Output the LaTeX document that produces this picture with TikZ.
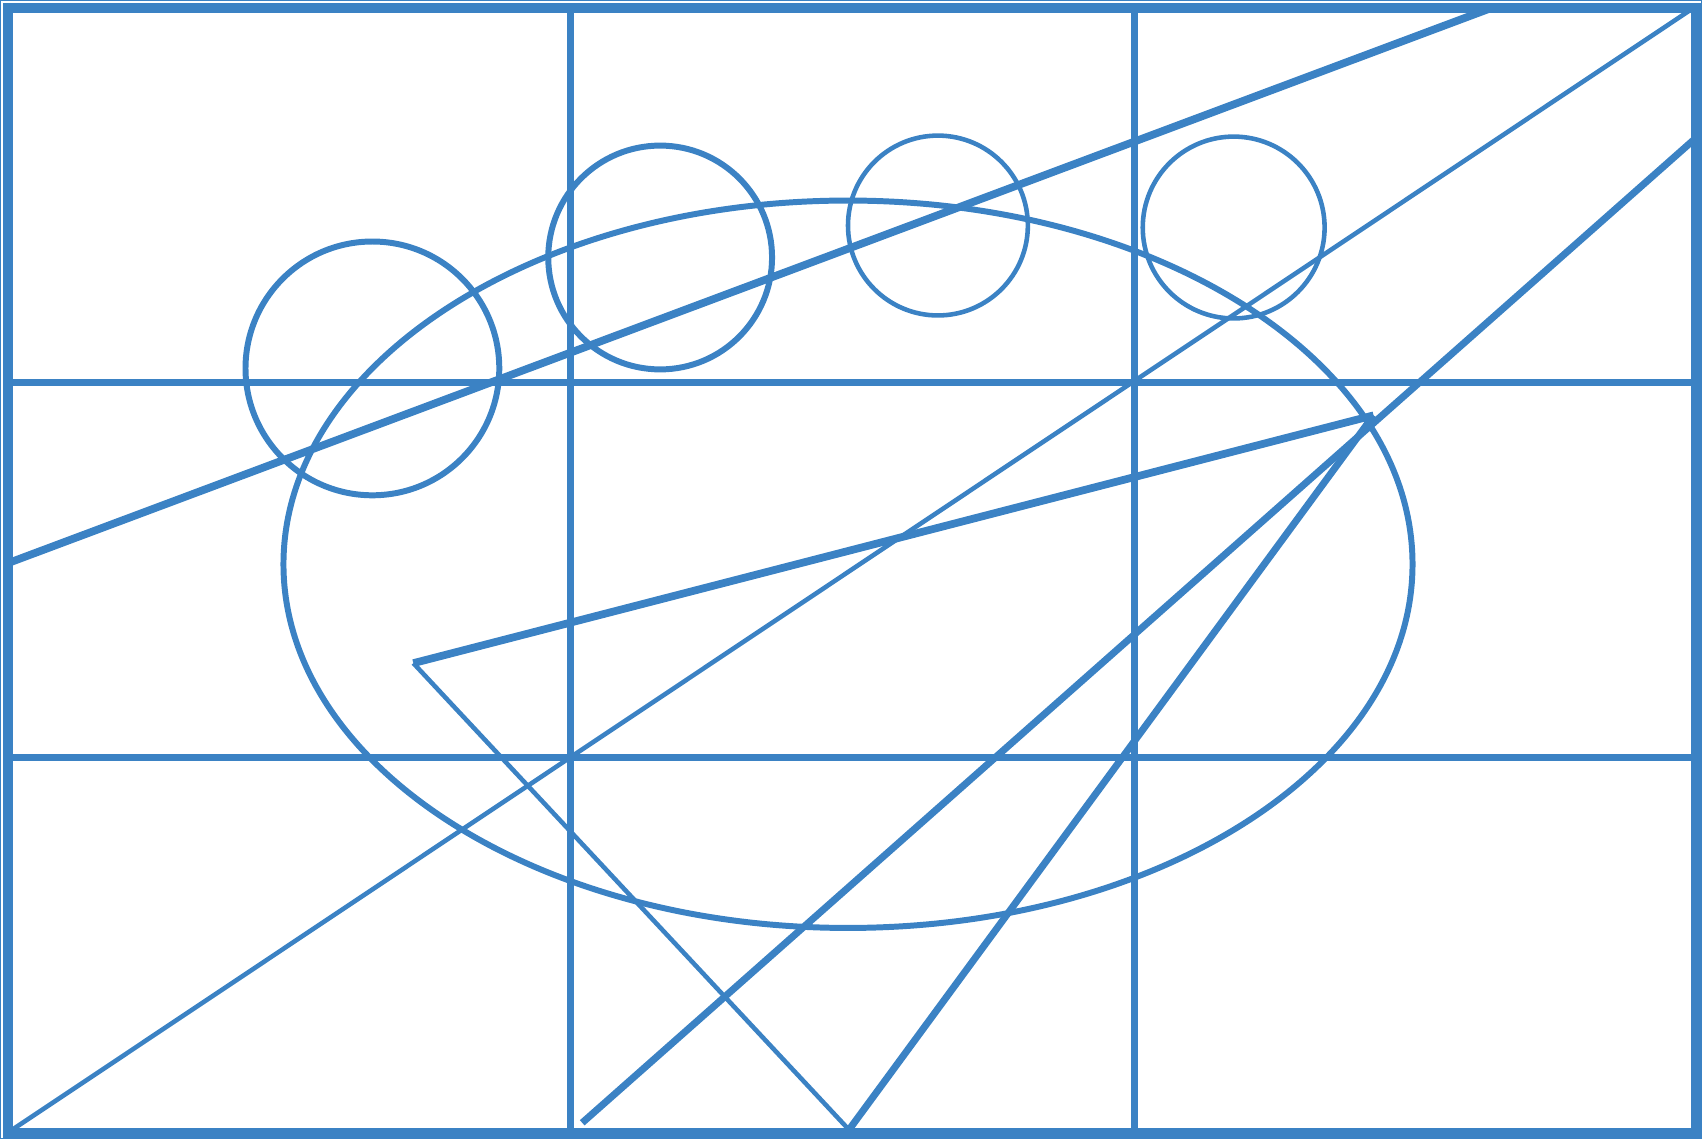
\documentclass[tikz,border=0pt]{standalone}
\usetikzlibrary{positioning}
\definecolor{sketchblue}{RGB}{59,130,196}
\begin{document}
\begin{tikzpicture}[x=0.01cm,y=-0.01cm,
 every path/.style={draw=sketchblue},
 frame/.style={line width=2.8pt},grid/.style={line width=2pt},
 heavy/.style={line width=2.2pt},light/.style={line width=1.3pt},
 ring/.style={line width=1.7pt}]
\useasboundingbox (0,0) rectangle (1702,1139);
\draw[frame](7,7) rectangle (1697,1133);
\draw[grid](570,7)--(570,1133);\draw[grid](1135,7)--(1135,1133);
\draw[grid](7,382)--(1697,382);\draw[grid](7,757)--(1697,757);
\draw[ring](848,564) ellipse [x radius=565,y radius=364];
\draw[ring](372,368) circle (127);
\draw[ring](660,257) circle (112);
\draw[light](938,225) circle (90);
\draw[light](1234,227) circle (91);
% corner points
\coordinate (p) at (413,663);\coordinate (q) at (1374,415);\coordinate (r) at (849,1130);
\draw[heavy](7,563)--(1490,8);
\draw[light](7,1133)--(1690,10);
\draw[grid](582,1123)--(1697,137);
\draw[heavy](p)--(q);\draw[light](p)--(r);\draw[grid](r)--(q);
\end{tikzpicture}
\end{document}
